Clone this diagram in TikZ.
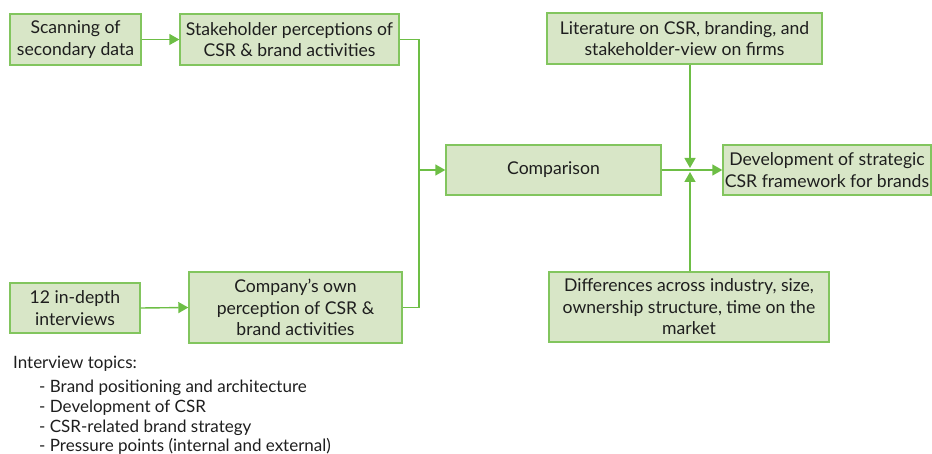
\documentclass[tikz,border=0pt]{standalone}
\usepackage{fontspec}
\setmainfont{Lato}
\usetikzlibrary{arrows.meta}
\definecolor{boxfill}{HTML}{D8E6C7}
\definecolor{boxline}{HTML}{82C55E}
\definecolor{arrline}{HTML}{6DBE45}
\definecolor{txt}{HTML}{1E1E1E}
\tikzset{
  stepbox/.style={draw=boxline, fill=boxfill, line width=1.4pt, inner sep=0pt,
    align=center, text=txt, font=\fontsize{17.6}{21.5}\selectfont},
  conn/.style={draw=arrline, line width=1.4pt},
  arr/.style={conn, -{Triangle[length=10pt,width=11pt]}},
  topic/.style={anchor=base west, inner sep=0pt, text=txt, font=\fontsize{17}{20}\selectfont}
}
\begin{document}
\begin{tikzpicture}[x=1pt,y=-1pt]
\useasboundingbox (0,0) rectangle (932,454);
\node[stepbox, minimum width=131pt, minimum height=51pt] (scan) at (75.5,39.5) {Scanning of\\secondary data};
\node[stepbox, minimum width=219pt, minimum height=51pt] (stake) at (289.5,39.5) {Stakeholder perceptions of\\CSR \& brand activities};
\node[stepbox, minimum width=275pt, minimum height=51pt] (lit) at (684.5,38.5) {Literature on CSR, branding, and\\stakeholder-view on firms};
\node[stepbox, minimum width=215pt, minimum height=50pt] (comp) at (553.5,170) {Comparison};
\node[stepbox, minimum width=208pt, minimum height=50pt] (dev) at (827,170) {Development of strategic\\CSR framework for brands};
\node[stepbox, minimum width=130pt, minimum height=50pt] (indepth) at (75,308) {12 in-depth\\interviews};
\node[stepbox, minimum width=213pt, minimum height=71pt] (own) at (295.5,307.5) {Company’s own\\perception of CSR \&\\brand activities};
\node[stepbox, minimum width=280pt, minimum height=70pt] (diff) at (689,307) {Differences across industry, size,\\ownership structure, time on the\\market};

\coordinate (bus) at (419,170);
\coordinate (junc) at (690,170);

\draw[arr] (scan.east) -- (stake.west);
\draw[arr] (indepth.east) -- (own.west);
\draw[conn] (stake.east) -| (bus) |- (own.east);
\draw[arr] (bus) -- (comp.west);
\draw[arr] (comp.east) -- (dev.west);
\draw[arr, shorten >=2pt] (lit.south -| junc) -- (junc);
\draw[arr, shorten >=2pt] (diff.north -| junc) -- (junc);

\node[topic] (t0) at (13,368) {Interview topics:};
\node[topic] (t1) at (39,392) {- Brand positioning and architecture};
\node[topic] (t2) at (39,412) {- Development of CSR};
\node[topic] (t3) at (39,432) {- CSR-related brand strategy};
\node[topic] (t4) at (39,451) {- Pressure points (internal and external)};
\end{tikzpicture}
\end{document}
